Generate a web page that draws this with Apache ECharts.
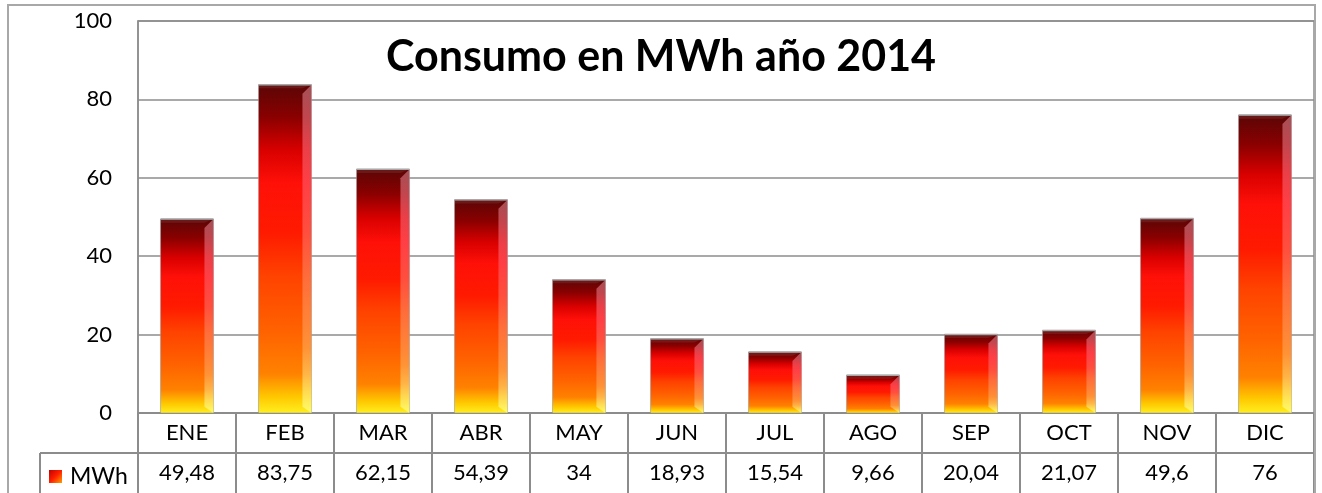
<!DOCTYPE html>
<html lang="es">
<head>
  <meta charset="UTF-8">
  <title>Consumo en MWh año 2014</title>
  <script src="https://cdn.jsdelivr.net/npm/echarts@6/dist/echarts.min.js"></script>
  <style>
    html, body { margin: 0; padding: 0; background: #fff; }
    #main { width: 1322px; height: 493px; }
  </style>
</head>
<body>
  <div id="main"></div>
  <script>
    // datos
    const meses = ['ENE', 'FEB', 'MAR', 'ABR', 'MAY', 'JUN', 'JUL', 'AGO', 'SEP', 'OCT', 'NOV', 'DIC'];
    const mwh = [49.48, 83.75, 62.15, 54.39, 34, 18.93, 15.54, 9.66, 20.04, 21.07, 49.6, 76];
    const yTicks = [0, 20, 40, 60, 80, 100];

    const etiquetas = mwh.map(v => String(v).replace('.', ','));
    const gris = '#8c8c8c';
    const fuente = 'Lato';

    function degradado() {
      return new echarts.graphic.LinearGradient(0, 0, 0, 1, [
        { offset: 0, color: '#5a0606' },
        { offset: 0.1, color: '#8a0000' },
        { offset: 0.2, color: '#d80000' },
        { offset: 0.3, color: '#ff1008' },
        { offset: 0.45, color: '#ff1a00' },
        { offset: 0.58, color: '#ff4200' },
        { offset: 0.75, color: '#ff6200' },
        { offset: 0.88, color: '#ff8200' },
        { offset: 0.95, color: '#ffc800' },
        { offset: 1, color: '#fff020' }
      ]);
    }

    // barra con bisel a la derecha, estilo Excel
    function barra(params, api) {
      const base = api.coord([api.value(0), 0]);
      const top = api.coord([api.value(0), api.value(1)]);
      const w = api.size([1, 0])[0] * 0.54;
      const x0 = top[0] - w / 2, x1 = top[0] + w / 2;
      const yt = top[1], yb = base[1];
      const b = Math.min(9, (yb - yt) / 2);
      return {
        type: 'group',
        children: [
          { type: 'rect', shape: { x: x0, y: yt, width: w, height: yb - yt }, style: { fill: degradado(), stroke: 'rgba(150,150,150,0.6)', lineWidth: 1 } },
          {
            type: 'polygon',
            shape: { points: [[x1 - b, yt + b], [x1, yt], [x1, yb], [x1 - b, yb - b * 0.7]] },
            style: {
              fill: new echarts.graphic.LinearGradient(0, 0, 0, 1, [
                { offset: 0, color: 'rgba(255,170,185,0.45)' },
                { offset: 0.3, color: 'rgba(255,110,130,0.5)' },
                { offset: 0.8, color: 'rgba(255,190,120,0.45)' },
                { offset: 1, color: 'rgba(255,255,120,0.8)' }
              ])
            }
          },
          {
            type: 'polygon',
            shape: { points: [[x0, yt], [x1, yt], [x1 - b, yt + b * 0.4], [x0, yt + b * 0.4]] },
            style: { fill: 'rgba(255,255,255,0.08)' }
          },
          { type: 'line', shape: { x1: x0, y1: yt, x2: x1, y2: yt }, style: { stroke: '#a8a8a8', lineWidth: 1.5 } }
        ]
      };
    }

    const chart = echarts.init(document.getElementById('main'));
    chart.setOption({
      animation: false,
      backgroundColor: '#fff',
      textStyle: { fontFamily: fuente },
      title: {
        text: 'Consumo en MWh año 2014',
        left: 'center',
        top: 31,
        textStyle: { fontFamily: fuente, fontSize: 43, fontWeight: 'bold', color: '#000' }
      },
      legend: {
        left: 44,
        top: 460,
        icon: 'rect',
        itemWidth: 13,
        itemHeight: 13,
        itemGap: 4,
        textStyle: { fontFamily: fuente, fontSize: 23, color: '#000', padding: [0, 0, 0, 3] },
        data: [{
          name: 'MWh',
          itemStyle: {
            color: new echarts.graphic.LinearGradient(0, 0, 1, 1, [
              { offset: 0, color: '#c00000' },
              { offset: 0.5, color: '#ff2000' },
              { offset: 1, color: '#ffa000' }
            ])
          }
        }]
      },
      grid: {
        left: 138, right: 8, top: 21, bottom: 80,
        show: true, borderColor: gris, borderWidth: 1.5
      },
      xAxis: [
        {
          type: 'category',
          data: meses,
          axisLine: { lineStyle: { color: gris, width: 2 } },
          axisTick: { show: true, length: 80, lineStyle: { color: gris, width: 2 } },
          axisLabel: { interval: 0, margin: 20, verticalAlign: 'middle', fontSize: 22, color: '#000', fontFamily: fuente }
        },
        {
          type: 'category',
          position: 'bottom',
          offset: 40,
          data: etiquetas,
          axisLine: { lineStyle: { color: gris, width: 2 } },
          axisTick: { show: false },
          axisLabel: { interval: 0, margin: 20, verticalAlign: 'middle', fontSize: 22, color: '#000', fontFamily: fuente }
        }
      ],
      yAxis: {
        type: 'value',
        min: yTicks[0],
        max: yTicks[yTicks.length - 1],
        interval: 20,
        axisLine: { show: true, lineStyle: { color: gris, width: 1.5 } },
        axisTick: { show: false },
        splitLine: { lineStyle: { color: gris, width: 1.5 } },
        axisLabel: { margin: 26, fontSize: 22, color: '#000', fontFamily: fuente }
      },
      graphic: [
        { type: 'rect', shape: { x: 8, y: 5, width: 1307, height: 520 }, style: { fill: 'none', stroke: '#a8a8a8', lineWidth: 2 }, z: 100 },
        { type: 'line', shape: { x1: 40, y1: 453, x2: 138, y2: 453 }, style: { stroke: gris, lineWidth: 2 } },
        { type: 'line', shape: { x1: 40, y1: 453, x2: 40, y2: 493 }, style: { stroke: gris, lineWidth: 2 } }
      ],
      series: [{
        name: 'MWh',
        type: 'custom',
        xAxisIndex: 0,
        renderItem: barra,
        encode: { x: 0, y: 1 },
        itemStyle: { color: '#ff2000' },
        data: mwh.map((v, i) => [i, v])
      }]
    });
  </script>
</body>
</html>
